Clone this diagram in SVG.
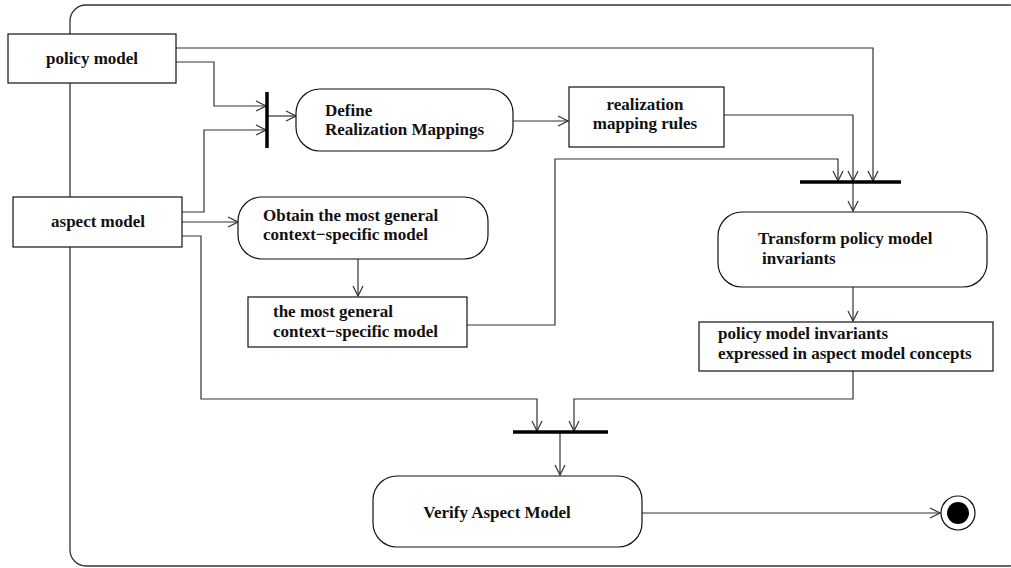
<svg xmlns="http://www.w3.org/2000/svg" width="1011" height="568" viewBox="0 0 1011 568">
<style>
.frame{fill:none;stroke:#333;stroke-width:1.3}
.box{fill:#fff;stroke:#111;stroke-width:1.2}
.conn{fill:none;stroke:#333;stroke-width:1.2}
.bar{stroke:#000;stroke-width:3.5}
text{font-family:"Liberation Serif","Times New Roman",serif;font-weight:bold;font-size:17px;fill:#111}
.c{text-anchor:middle}
</style>
<defs>
<marker id="arr" viewBox="0 0 12 12" refX="11" refY="6" markerWidth="12" markerHeight="12" markerUnits="userSpaceOnUse" orient="auto">
<path d="M1,1 L11,6 L1,11" fill="none" stroke="#333" stroke-width="1.2"/>
</marker>
</defs>
<rect class="frame" x="70" y="5" width="955" height="561" rx="16"/>
<g id="connectors">
<path class="conn" d="M176,48 H873 V181" marker-end="url(#arr)"/>
<path class="conn" d="M176,62 H214 V106 H266" marker-end="url(#arr)"/>
<path class="conn" d="M182,212 H204 V130 H266" marker-end="url(#arr)"/>
<path class="conn" d="M268,116 H296" marker-end="url(#arr)"/>
<path class="conn" d="M513,121 H568" marker-end="url(#arr)"/>
<path class="conn" d="M724,115 H853 V181" marker-end="url(#arr)"/>
<path class="conn" d="M467,325 H555 V159 H838 V181" marker-end="url(#arr)"/>
<path class="conn" d="M853,183 V211" marker-end="url(#arr)"/>
<path class="conn" d="M853,287 V321" marker-end="url(#arr)"/>
<path class="conn" d="M182,222 H238" marker-end="url(#arr)"/>
<path class="conn" d="M358,259 V296" marker-end="url(#arr)"/>
<path class="conn" d="M182,236 H201 V399 H537 V431" marker-end="url(#arr)"/>
<path class="conn" d="M853,371 V399 H574 V431" marker-end="url(#arr)"/>
<path class="conn" d="M560,433 V475" marker-end="url(#arr)"/>
<path class="conn" d="M642,513 H940" marker-end="url(#arr)"/>
</g>
<g id="bar1"><line class="bar" x1="267" y1="92" x2="267" y2="148"/></g>
<g id="bar2"><line class="bar" x1="800" y1="182" x2="901" y2="182"/></g>
<g id="bar3"><line class="bar" x1="513" y1="432" x2="608" y2="432"/></g>
<g id="policy-model">
<rect class="box" x="8" y="34" width="168" height="49"/>
<text class="c" x="92" y="64">policy model</text>
</g>
<g id="aspect-model">
<rect class="box" x="13" y="197" width="169" height="50"/>
<text class="c" x="98" y="227">aspect model</text>
</g>
<g id="define">
<rect class="box" x="296" y="89" width="217" height="62" rx="24"/>
<text x="325" y="116">Define</text>
<text x="325" y="135">Realization Mappings</text>
</g>
<g id="rules">
<rect class="box" x="569" y="87" width="155" height="60"/>
<text class="c" x="645" y="110">realization</text>
<text class="c" x="645" y="129">mapping rules</text>
</g>
<g id="obtain">
<rect class="box" x="238" y="197" width="250" height="62" rx="24"/>
<text x="263" y="221">Obtain the most general</text>
<text x="263" y="240">context−specific model</text>
</g>
<g id="general">
<rect class="box" x="248" y="297" width="219" height="50"/>
<text x="273" y="317">the most general</text>
<text x="273" y="337">context−specific model</text>
</g>
<g id="transform">
<rect class="box" x="718" y="212" width="269" height="75" rx="24"/>
<text x="758" y="244">Transform policy model</text>
<text x="762" y="264">invariants</text>
</g>
<g id="invariants">
<rect class="box" x="699" y="322" width="294" height="49"/>
<text x="718" y="339">policy model invariants</text>
<text x="718" y="359">expressed in aspect model concepts</text>
</g>
<g id="verify">
<rect class="box" x="373" y="476" width="269" height="71" rx="24"/>
<text class="c" x="497" y="518">Verify Aspect Model</text>
</g>
<g id="final">
<circle cx="958" cy="513" r="17" fill="#fff" stroke="#111" stroke-width="1.2"/>
<circle cx="958" cy="513" r="11" fill="#000"/>
</g>
</svg>
